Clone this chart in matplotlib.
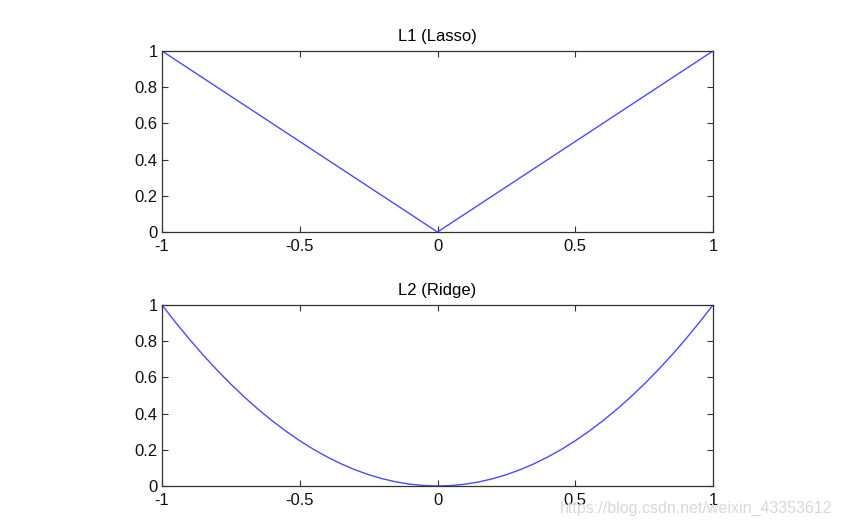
import matplotlib
matplotlib.use('Agg')
import matplotlib.pyplot as plt

# values
l1_x = [-1.0, 0.0, 1.0]
l1_y = [1.0, 0.0, 1.0]

l2_x = [-1.0, -0.95, -0.9, -0.85, -0.8, -0.75, -0.7, -0.65, -0.6, -0.55,
        -0.5, -0.45, -0.4, -0.35, -0.3, -0.25, -0.2, -0.15, -0.1, -0.05,
        0.0, 0.05, 0.1, 0.15, 0.2, 0.25, 0.3, 0.35, 0.4, 0.45, 0.5,
        0.55, 0.6, 0.65, 0.7, 0.75, 0.8, 0.85, 0.9, 0.95, 1.0]
l2_y = [1.0, 0.9025, 0.81, 0.7225, 0.64, 0.5625, 0.49, 0.4225, 0.36, 0.3025,
        0.25, 0.2025, 0.16, 0.1225, 0.09, 0.0625, 0.04, 0.0225, 0.01, 0.0025,
        0.0, 0.0025, 0.01, 0.0225, 0.04, 0.0625, 0.09, 0.1225, 0.16, 0.2025, 0.25,
        0.3025, 0.36, 0.4225, 0.49, 0.5625, 0.64, 0.7225, 0.81, 0.9025, 1.0]

xticks = [-1, -0.5, 0, 0.5, 1]
xticklabels = ['-1', '-0.5', '0', '0.5', '1']
yticks = [0, 0.2, 0.4, 0.6, 0.8, 1]
yticklabels = ['0', '0.2', '0.4', '0.6', '0.8', '1']

plt.rcParams['font.family'] = ['Liberation Sans', 'DejaVu Sans']
plt.rcParams['font.size'] = 12

fig = plt.figure(figsize=(8.42, 5.29), dpi=100)
ax1 = fig.add_axes([0.1924, 0.5614, 0.6544, 0.3422])
ax2 = fig.add_axes([0.1924, 0.0813, 0.6544, 0.3422])

for ax, xs, ys, title in [(ax1, l1_x, l1_y, 'L1 (Lasso)'),
                          (ax2, l2_x, l2_y, 'L2 (Ridge)')]:
    ax.plot(xs, ys, color='#4a4aff', lw=1.0)
    ax.set_xlim(-1, 1)
    ax.set_ylim(0, 1)
    ax.set_xticks(xticks)
    ax.set_xticklabels(xticklabels)
    ax.set_yticks(yticks)
    ax.set_yticklabels(yticklabels)
    ax.tick_params(direction='in', top=True, right=True, length=4,
                   width=0.8, color='#333333', labelcolor='#111111')
    ax.tick_params(axis='x', pad=5)
    ax.tick_params(axis='y', pad=3)
    for sp in ax.spines.values():
        sp.set_color('#333333')
        sp.set_linewidth(0.9)
    ax.set_title(title, fontsize=12, pad=7)

fig.text(0.988, 0.024, 'https://blog.csdn.net/weixin_43353612',
         ha='right', va='bottom', fontsize=11.5, color='#d8d8d8')

plt.savefig('out.png', dpi=100)
